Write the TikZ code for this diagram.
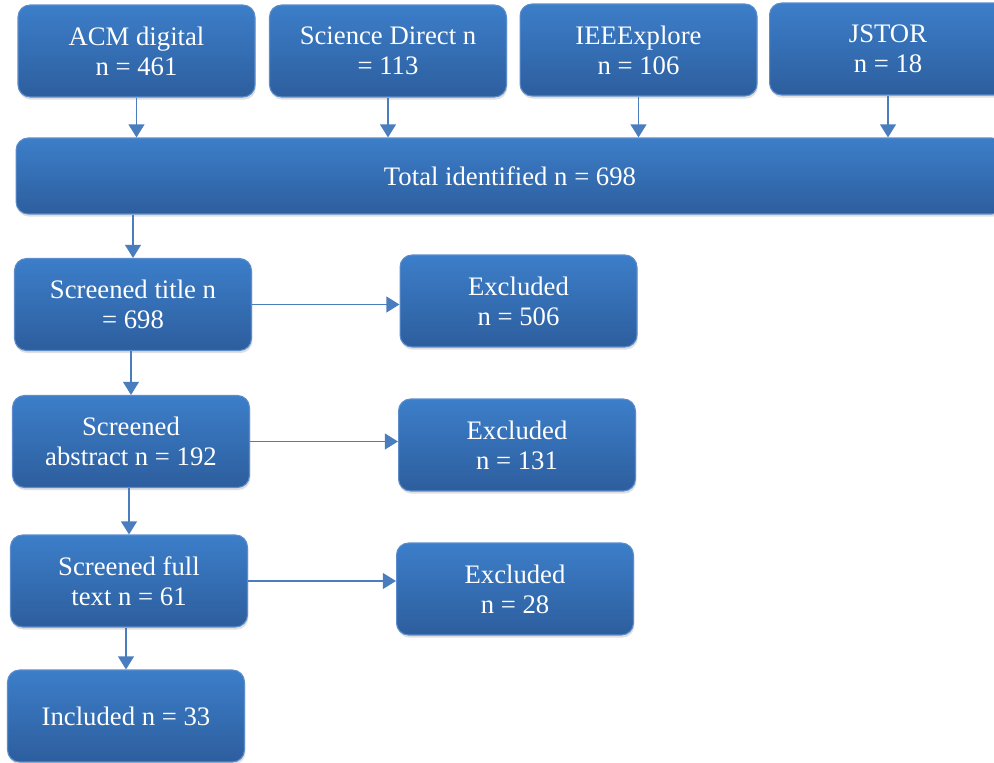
\documentclass[tikz,border=0pt]{standalone}
\usepackage{fontspec}
\setmainfont{Liberation Serif}
\usetikzlibrary{arrows.meta,shadows}
\definecolor{boxtop}{RGB}{60,126,201}
\definecolor{boxbot}{RGB}{45,94,158}
\definecolor{boxline}{RGB}{92,140,203}
\definecolor{arrline}{RGB}{74,125,190}
\tikzset{
	stage/.style={rectangle, rounded corners=0.24cm, draw=boxline, line width=0.6pt, top color=boxtop, bottom color=boxbot, text=white, align=center, minimum width=4.74cm, minimum height=1.84cm, inner sep=0pt, font=\fontsize{15.2}{17}\selectfont, drop shadow={opacity=0.25, shadow xshift=0.5pt, shadow yshift=-1.5pt}},
	arr/.style={draw=arrline, line width=1.1pt, -{Triangle[width=9pt,length=7.5pt]}}
}

\begin{document}
\begin{tikzpicture}[x=0.02cm, y=-0.02cm]
				\useasboundingbox (0,0) rectangle (994,763);
				
				\node[stage] (acm) at (136.5,51) {ACM digital\\n = 461};
				\node[stage] (sd) at (388,51) {Science Direct n\\= 113};
				\node[stage] (ieee) at (638.5,50) {IEEExplore\\n = 106};
				\node[stage] (jstor) at (888,49) {JSTOR\\n = 18};
				
				\node[stage, minimum width=19.76cm, minimum height=1.52cm] (total) at (510,176) {Total identified n = 698};
				
				\node[stage] (title) at (133,304.5) {Screened title n\\= 698};
				\node[stage] (exc1) at (518.5,301) {Excluded\\n = 506};
				
				\node[stage] (abstract) at (131,441.5) {Screened\\abstract n = 192};
				\node[stage] (exc2) at (517,445) {Excluded\\n = 131};
				
				\node[stage] (full) at (129,581) {Screened full\\text n = 61};
				\node[stage] (exc3) at (515,589) {Excluded\\n = 28};
				
				\node[stage] (incl) at (126,716) {Included n = 33};
				
				\draw[arr] (acm) -- (acm |- total.north);
				\draw[arr] (sd) -- (sd |- total.north);
				\draw[arr] (ieee) -- (ieee |- total.north);
				\draw[arr] (jstor) -- (jstor |- total.north);
				
				\draw[arr] (title |- total.south) -- (title);
				\draw[arr] (abstract |- title.south) -- (abstract);
				\draw[arr] (full |- abstract.south) -- (full);
				\draw[arr] (incl |- full.south) -- (incl);
				
				\draw[arr] (title.east) -- (title.east -| exc1.west);
				\draw[arr] (abstract.east) -- (abstract.east -| exc2.west);
				\draw[arr] (full.east) -- (full.east -| exc3.west);
			\end{tikzpicture}
\end{document}
